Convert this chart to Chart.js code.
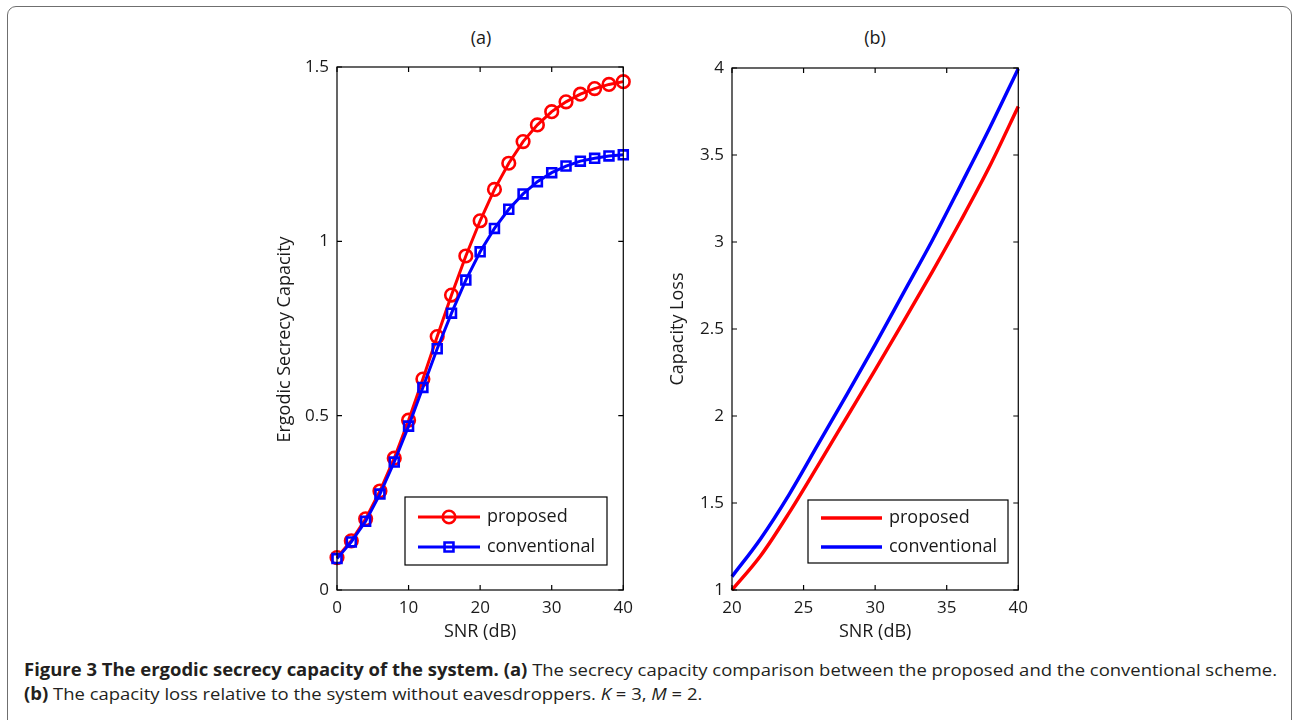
<!DOCTYPE html>
<html><head><meta charset="utf-8">
<script src="https://cdn.jsdelivr.net/npm/chart.js@4.4.1/dist/chart.umd.min.js"></script>
<style>
html,body{margin:0;padding:0;background:#fff;width:1294px;height:720px;overflow:hidden;font-family:'Open Sans',sans-serif;}
#frame{position:absolute;left:7px;top:6px;width:1285px;height:800px;border:1.5px solid #6f6f6f;border-radius:9px;box-sizing:border-box;}
.ptitle{position:absolute;font-size:18px;color:#1a1a1a;transform:translate(-50%,-50%);line-height:24px;}
.cap{position:absolute;left:24px;font-size:17px;line-height:24px;color:#231f20;white-space:nowrap;transform-origin:0 50%;}
canvas{position:absolute;}
</style></head>
<body>
<div id="frame"></div>
<div class="ptitle" style="left:481px;top:37px">(a)</div>
<div class="ptitle" style="left:875px;top:37px">(b)</div>
<canvas id="ca" width="383" height="630" style="left:250px;top:20px"></canvas>
<canvas id="cb" width="378" height="630" style="left:650px;top:20px"></canvas>
<div class="cap" id="cap1" style="top:658px"><b>Figure 3 The ergodic secrecy capacity of the system. (a)</b> The secrecy capacity comparison between the proposed and the conventional scheme.</div>
<div class="cap" id="cap2" style="top:682px"><b>(b)</b> The capacity loss relative to the system without eavesdroppers. <i>K</i> = 3, <i>M</i> = 2.</div>
<script>
// ---------- data ----------
const snrA = [0,2,4,6,8,10,12,14,16,18,20,22,24,26,28,30,32,34,36,38,40];
const proposedA = [0.093,0.141,0.204,0.284,0.378,0.487,0.605,0.727,0.846,0.958,1.059,1.149,1.224,1.286,1.334,1.372,1.400,1.422,1.438,1.450,1.458];
const conventionalA = [0.090,0.138,0.197,0.275,0.367,0.470,0.581,0.692,0.794,0.889,0.970,1.037,1.092,1.136,1.171,1.197,1.216,1.230,1.238,1.245,1.248];
const xTicksA = [0,10,20,30,40];
const yTicksA = [0,0.5,1,1.5];

const snrB = [20,22,24,26,28,30,32,34,36,38,40];
const proposedB = [1.000,1.197,1.445,1.715,1.990,2.265,2.545,2.830,3.125,3.435,3.779];
const conventionalB = [1.077,1.295,1.550,1.835,2.120,2.410,2.710,3.010,3.330,3.655,3.996];
const xTicksB = [20,25,30,35,40];
const yTicksB = [1,1.5,2,2.5,3,3.5,4];

const seriesNames = ['proposed','conventional'];
const RED = '#ff0000', BLUE = '#0000ff';
const FONT = "'Open Sans', sans-serif";
const TXT = '#1a1a1a';

function pts(xs, ys){ return xs.map((x,i)=>({x:x, y:ys[i]})); }

// ---------- plugins ----------
const axesBox = {
  id:'axesBox',
  afterDatasetsDraw(chart){
    const {ctx, chartArea:a, scales:{x,y}} = chart;
    ctx.save();
    ctx.strokeStyle = '#000'; ctx.lineWidth = 1.2;
    ctx.strokeRect(a.left, a.top, a.right-a.left, a.bottom-a.top);
    const L = 5;
    ctx.beginPath();
    x.ticks.forEach(t=>{ const p = x.getPixelForValue(t.value);
      ctx.moveTo(p,a.bottom); ctx.lineTo(p,a.bottom-L);
      ctx.moveTo(p,a.top); ctx.lineTo(p,a.top+L); });
    y.ticks.forEach(t=>{ const p = y.getPixelForValue(t.value);
      ctx.moveTo(a.left,p); ctx.lineTo(a.left+L,p);
      ctx.moveTo(a.right,p); ctx.lineTo(a.right-L,p); });
    ctx.stroke();
    ctx.restore();
  }
};
// y-axis title drawn beside the axis (centre offset as in the reference)
const yTitle = {
  id:'yTitle',
  afterDraw(chart, args, o){
    const {ctx, chartArea:a} = chart;
    ctx.save();
    ctx.translate(o.x, (a.top + a.bottom)/2 + o.dy);
    ctx.rotate(-Math.PI/2);
    ctx.fillStyle = TXT; ctx.font = "18px " + FONT;
    ctx.textAlign = 'center'; ctx.textBaseline = 'middle';
    ctx.fillText(o.text, 0, 0);
    ctx.restore();
  }
};
const boxLegend = {
  id:'boxLegend',
  afterDraw(chart, args, o){
    const {ctx} = chart;
    ctx.save();
    ctx.fillStyle = '#fff';
    ctx.fillRect(o.x, o.y, o.w, o.h);
    ctx.strokeStyle = '#000'; ctx.lineWidth = 1.2;
    ctx.strokeRect(o.x, o.y, o.w, o.h);
    chart.data.datasets.forEach((ds,i)=>{
      const yy = o.rows[i];
      ctx.strokeStyle = ds.borderColor; ctx.lineWidth = ds.borderWidth;
      ctx.beginPath(); ctx.moveTo(o.lx0, yy); ctx.lineTo(o.lx1, yy); ctx.stroke();
      if (ds.pointRadius > 0){
        const cx = (o.lx0+o.lx1)/2, r = ds.pointRadius;
        ctx.lineWidth = ds.pointBorderWidth;
        ctx.beginPath();
        if (ds.pointStyle === 'rect'){ const s = r*Math.SQRT1_2; ctx.rect(cx-s, yy-s, 2*s, 2*s); }
        else { ctx.arc(cx, yy, r, 0, Math.PI*2); }
        ctx.stroke();
      }
      ctx.fillStyle = TXT; ctx.font = "18px " + FONT;
      ctx.textBaseline = 'middle'; ctx.textAlign = 'left';
      ctx.fillText(ds.label, o.tx, yy);
    });
    ctx.restore();
  }
};

function scaleOpts(min, max, ticks, axis, titleText, fitSize, titlePad){
  return {
    type:'linear', min:min, max:max,
    afterBuildTicks: s => { s.ticks = ticks.map(v=>({value:v})); },
    afterFit: s => { if (axis==='x') s.height = fitSize; else s.width = fitSize; },
    grid:{display:false, drawTicks:false},
    border:{display:false},
    ticks:{color:TXT, font:{family:FONT, size:17}, padding:8, maxRotation:0, autoSkip:false,
           callback: v => String(v)},
    title:{display: axis==='x', text:titleText, color:TXT, font:{family:FONT, size:18}, padding:titlePad}
  };
}

function makeChart(id, xs, ys1, ys2, markers, xr, yr, xt, yt, yTitleCfg, yW, padT, legend, targetRight){
  const canvas = document.getElementById(id);
  const build = () => {
    const ds1 = {label:seriesNames[0], data:pts(xs,ys1), borderColor:RED, borderWidth:markers?3:3.5,
      pointStyle:'circle', pointRadius:markers?6.3:0, pointBorderWidth:2.6, pointBackgroundColor:'rgba(0,0,0,0)',
      pointBorderColor:RED, tension:0, cubicInterpolationMode: markers?'default':'monotone', clip:false, order:2};
    const ds2 = {label:seriesNames[1], data:pts(xs,ys2), borderColor:BLUE, borderWidth:markers?3:3.5,
      pointStyle:'rect', pointRadius:markers?6.3:0, pointBorderWidth:2.6, pointBackgroundColor:'rgba(0,0,0,0)',
      pointBorderColor:BLUE, tension:0, cubicInterpolationMode: markers?'default':'monotone', clip:false, order:1};
    return new Chart(canvas, {
      type:'line',
      data:{datasets:[ds1, ds2]},
      options:{
        responsive:false, animation:false, devicePixelRatio:1,
        layout:{padding:{left:0, right:0, top:padT, bottom:0}},
        plugins:{legend:{display:false}, tooltip:{enabled:false}, title:{display:false},
                 boxLegend:legend, yTitle:yTitleCfg},
        elements:{point:{hoverRadius:6}},
        scales:{
          x: scaleOpts(xr[0], xr[1], xt, 'x', 'SNR (dB)', 60, {top:0, bottom:7}),
          y: scaleOpts(yr[0], yr[1], yt, 'y', yTitleCfg.text, yW, {top:0, bottom:0})
        }
      },
      plugins:[axesBox, yTitle, boxLegend]
    });
  };
  let chart = build();
  // adjust canvas width so the plot box ends where the reference's does
  const delta = targetRight - chart.chartArea.right;
  if (Math.abs(delta) > 0.2){
    const w = Math.round(canvas.width + delta);
    chart.destroy();
    canvas.width = w; canvas.height = 630;
    canvas.style.width = w + 'px'; canvas.style.height = '630px';
    chart = build();
  }
  return chart;
}

makeChart('ca', snrA, proposedA, conventionalA, true, [0,40], [0,1.5], xTicksA, yTicksA,
  {text:'Ergodic Secrecy Capacity', x:35, dy:11}, 87, 47,
  {x:155, y:477, w:202, h:68, lx0:168, lx1:230, tx:237, rows:[497,527]}, 373);
makeChart('cb', snrB, proposedB, conventionalB, false, [20,40], [1,4], xTicksB, yTicksB,
  {text:'Capacity Loss', x:28, dy:0}, 82, 48,
  {x:158, y:480, w:200, h:63, lx0:171, lx1:232, tx:239, rows:[498,527]}, 368);

// caption width fitting (Myriad-like condensed)
function fitCaption(){
  const c1 = document.getElementById('cap1'), c2 = document.getElementById('cap2');
  c1.style.transform = 'none'; c2.style.transform = 'none';
  const w = c1.getBoundingClientRect().width;
  const k = 1253 / w;
  c1.style.transform = 'scaleX(' + k + ')';
  c2.style.transform = 'scaleX(' + k + ')';
}
fitCaption();
if (document.fonts && document.fonts.ready) document.fonts.ready.then(fitCaption);
</script>
</body></html>
